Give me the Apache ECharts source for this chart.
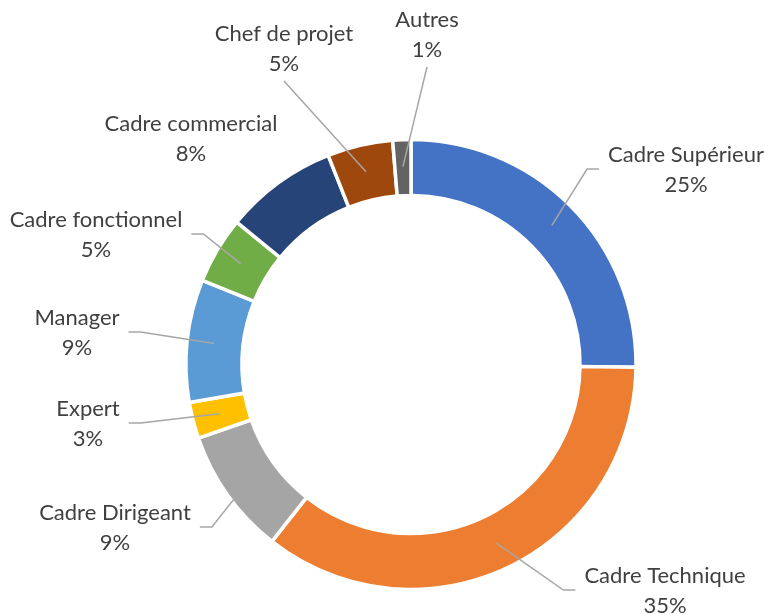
<!DOCTYPE html>
<html>
<head>
<meta charset="utf-8">
<script src="https://cdn.jsdelivr.net/npm/echarts@6/dist/echarts.min.js"></script>
<style>
html, body { margin: 0; padding: 0; background: #ffffff; }
#chart { width: 765px; height: 614px; }
</style>
</head>
<body>
<div id="chart"></div>
<script>
// ---- data ----
const categories = ['Cadre Supérieur', 'Cadre Technique', 'Cadre Dirigeant', 'Expert', 'Manager',
                    'Cadre fonctionnel', 'Cadre commercial', 'Chef de projet', 'Autres'];
const shares = [25.2, 35.4, 9.1, 2.6, 8.8, 4.8, 8.1, 4.7, 1.3];

// ---- styling / layout (kept apart from the data) ----
const colors = ['#4472C4', '#ED7D31', '#A5A5A5', '#FFC000', '#5B9BD5',
                '#70AD47', '#264478', '#9E480E', '#636363'];
const labelCenters = [[686, 170], [665, 591], [115, 528], [88, 424], [77, 333],
                      [96, 235], [191, 139], [284, 49], [427, 35]];
const lineSides = ['left', 'left', 'right', 'right', 'right', 'right', 'none', 'bottom', 'bottom'];

const center = [411, 364.5];
const FONT = 'Lato, "Open Sans", sans-serif';

const ringData = categories.map((name, i) => ({
  name: name,
  value: shares[i],
  itemStyle: { color: colors[i] }
}));

const labelData = categories.map((name, i) => ({
  name: name,
  value: shares[i],
  labelLine: { show: lineSides[i] !== 'none' }
}));

const chart = echarts.init(document.getElementById('chart'), null, { renderer: 'canvas' });

chart.setOption({
  animation: false,
  backgroundColor: '#ffffff',
  series: [
    {
      type: 'pie',
      z: 2,
      center: center,
      radius: [169, 225],
      startAngle: 90,
      clockwise: true,
      silent: true,
      avoidLabelOverlap: false,
      itemStyle: { borderColor: '#ffffff', borderWidth: 3.5 },
      label: { show: false },
      labelLine: { show: false },
      emphasis: { disabled: true },
      data: ringData
    },
    {
      type: 'pie',
      z: 5,
      center: center,
      radius: [0, 198],
      startAngle: 90,
      clockwise: true,
      silent: true,
      avoidLabelOverlap: false,
      itemStyle: { color: 'rgba(0,0,0,0)', borderWidth: 0 },
      emphasis: { disabled: true },
      label: {
        show: true,
        position: 'outside',
        color: '#404040',
        fontFamily: FONT,
        fontSize: 22,
        lineHeight: 30,
        align: 'center',
        formatter: (p) => p.name + '\n' + Math.round(p.value) + '%'
      },
      labelLine: {
        show: true,
        length: 10,
        length2: 10,
        lineStyle: { color: '#A6A6A6', width: 1.5 }
      },
      labelLayout: function (p) {
        const i = p.dataIndex;
        const c = labelCenters[i];
        const w = p.labelRect.width;
        const h = p.labelRect.height;
        const a = p.labelLinePoints ? p.labelLinePoints[0] : null;
        const side = lineSides[i];
        const gap = 9, elbow = 12;
        let pts = null;
        if (a) {
          if (side === 'left') {
            const ex = c[0] - w / 2 - gap, ey = c[1] - 1;
            pts = [a, [ex - elbow, ey], [ex, ey]];
          } else if (side === 'right') {
            const ex = c[0] + w / 2 + gap, ey = c[1] - 1;
            pts = [a, [ex + elbow, ey], [ex, ey]];
          } else if (side === 'bottom') {
            const ex = c[0], ey = c[1] + h / 2 + 2;
            pts = [a, [ex, ey], [ex, ey]];
          }
        }
        const out = { x: c[0], y: c[1], align: 'center', verticalAlign: 'middle' };
        if (pts) out.labelLinePoints = pts;
        return out;
      },
      data: labelData
    }
  ]
});
</script>
</body>
</html>
